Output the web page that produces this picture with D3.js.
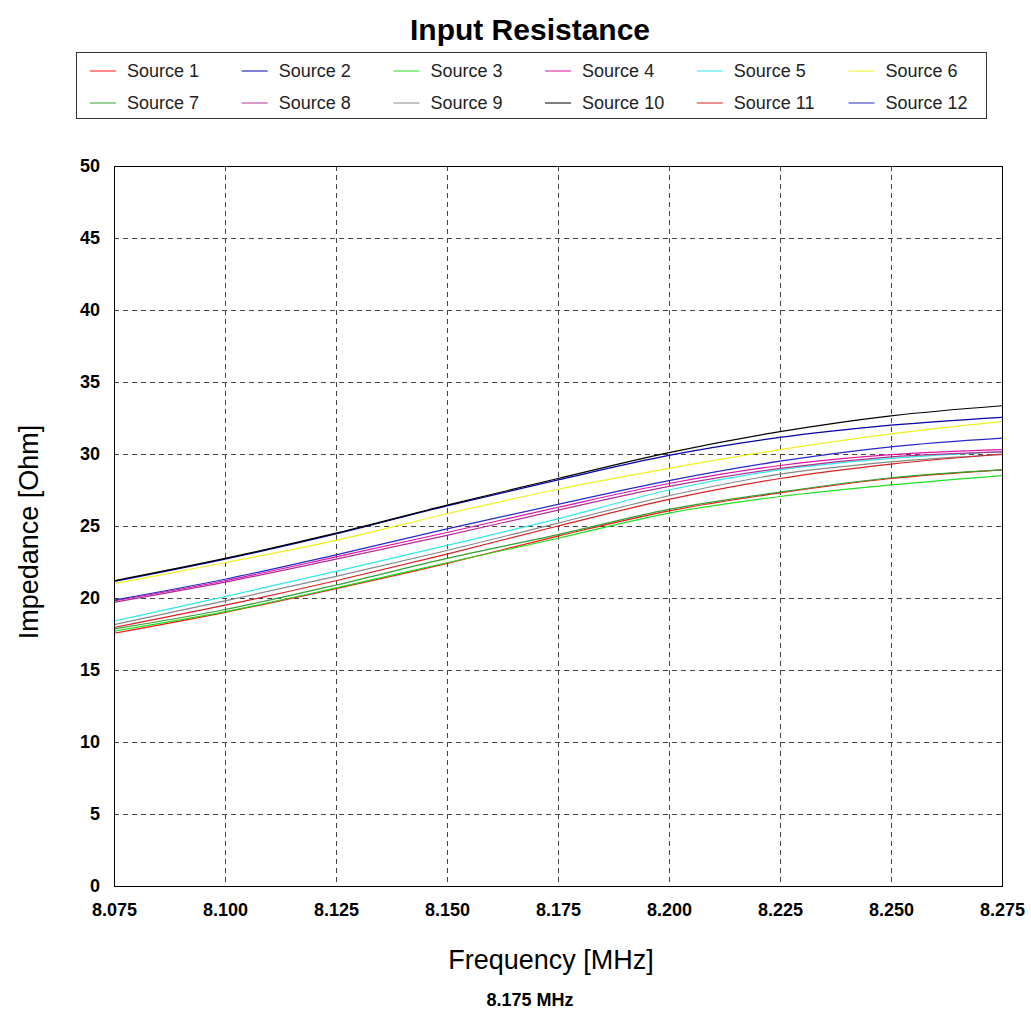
<!DOCTYPE html>
<html>
<head>
<meta charset="utf-8">
<script src="https://cdn.jsdelivr.net/npm/d3@7"></script>
<style>
  body { margin: 0; background: #fff; }
  text { font-family: "Liberation Sans", Arial, sans-serif; }
</style>
</head>
<body>
<div id="chart"></div>
<script>
const freqs = [8.075, 8.100, 8.125, 8.150, 8.175, 8.200, 8.225, 8.250, 8.275];

const sourceNames = ["Source 1", "Source 2", "Source 3", "Source 4", "Source 5", "Source 6",
                     "Source 7", "Source 8", "Source 9", "Source 10", "Source 11", "Source 12"];
const sourceColors = ["#ff1010", "#0000a8", "#20e020", "#e010a8", "#30e8e8", "#f0f020",
                      "#30a030", "#b03090", "#888888", "#000000", "#d82020", "#2828c8"];

// impedance per source [Ohm]
const src1  = [17.55, 19.0, 20.65, 22.4, 24.3, 26.05, 27.3, 28.3, 28.9];
const src2  = [21.15, 22.7, 24.45, 26.4, 28.2, 29.9, 31.15, 32.0, 32.55];
const src3  = [17.7, 19.05, 20.7, 22.45, 24.15, 25.9, 27.05, 27.85, 28.5];
const src4  = [19.8, 21.2, 22.85, 24.55, 26.3, 27.95, 29.2, 29.95, 30.3];
const src5  = [18.4, 20.1, 21.85, 23.65, 25.5, 27.5, 28.9, 29.7, 30.15];
const src6  = [21.0, 22.45, 24.0, 25.85, 27.55, 29.0, 30.3, 31.4, 32.25];
const src7  = [17.85, 19.2, 20.9, 22.75, 24.4, 26.15, 27.35, 28.35, 28.9];
const src8  = [19.7, 21.1, 22.7, 24.35, 26.1, 27.75, 29.0, 29.8, 30.15];
const src9  = [18.15, 19.8, 21.5, 23.3, 25.2, 27.1, 28.6, 29.45, 29.95];
const src10 = [21.2, 22.75, 24.5, 26.45, 28.3, 30.1, 31.55, 32.65, 33.35];
const src11 = [17.95, 19.5, 21.2, 23.05, 25.0, 26.85, 28.3, 29.3, 30.0];
const src12 = [19.85, 21.3, 23.0, 24.8, 26.5, 28.15, 29.5, 30.5, 31.1];

const allSeries = [src1, src2, src3, src4, src5, src6, src7, src8, src9, src10, src11, src12];

const xTicks = [8.075, 8.100, 8.125, 8.150, 8.175, 8.200, 8.225, 8.250, 8.275];
const yTicks = [0, 5, 10, 15, 20, 25, 30, 35, 40, 45, 50];

const W = 1031, H = 1012;
const plot = {left: 114, right: 1002, top: 166, bottom: 886};

const svg = d3.select("#chart").append("svg")
    .attr("width", W)
    .attr("height", H);

const x = d3.scaleLinear().domain([8.075, 8.275]).range([plot.left, plot.right]);
const y = d3.scaleLinear().domain([0, 50]).range([plot.bottom, plot.top]);

// title
svg.append("text")
    .attr("x", 530).attr("y", 40)
    .attr("text-anchor", "middle")
    .style("font-size", "30px")
    .style("font-weight", "bold")
    .text("Input Resistance");

// legend
const legend = svg.append("g");
legend.append("rect")
    .attr("x", 76.5).attr("y", 52.5)
    .attr("width", 910).attr("height", 66)
    .attr("fill", "none").attr("stroke", "#333");

sourceNames.forEach(function(name, i) {
  const col = i % 6, row = Math.floor(i / 6);
  const lx = 90 + col * 151.7, ly = 71 + row * 32;
  legend.append("line")
      .attr("x1", lx).attr("x2", lx + 26)
      .attr("y1", ly).attr("y2", ly)
      .attr("stroke", sourceColors[i]).attr("stroke-width", 1);
  legend.append("text")
      .attr("x", lx + 37).attr("y", ly + 6)
      .style("font-size", "18px")
      .attr("fill", "#222")
      .text(name);
});

// grid
const grid = svg.append("g").attr("stroke", "#444").attr("stroke-dasharray", "5,4");
grid.selectAll("line.gx")
    .data(xTicks.slice(1, -1))
    .enter().append("line")
    .attr("x1", d => Math.round(x(d)) + 0.5).attr("x2", d => Math.round(x(d)) + 0.5)
    .attr("y1", plot.top).attr("y2", plot.bottom);
grid.selectAll("line.gy")
    .data(yTicks.slice(1, -1))
    .enter().append("line")
    .attr("y1", d => Math.round(y(d)) + 0.5).attr("y2", d => Math.round(y(d)) + 0.5)
    .attr("x1", plot.left).attr("x2", plot.right);

// axes
const xAxis = svg.append("g")
    .attr("transform", "translate(0," + plot.bottom + ")")
    .call(d3.axisBottom(x).tickValues(xTicks).tickFormat(d3.format(".3f")).tickSize(0).tickPadding(17));
const yAxis = svg.append("g")
    .attr("transform", "translate(" + plot.left + ",0)")
    .call(d3.axisLeft(y).tickValues(yTicks).tickSize(0).tickPadding(14));
[xAxis, yAxis].forEach(function(a) {
  a.select(".domain").remove();
  a.selectAll("text")
      .style("font-family", "'Liberation Sans', Arial, sans-serif")
      .style("font-size", "18px")
      .style("font-weight", "bold")
      .attr("fill", "#000");
});
yAxis.selectAll("text").attr("dy", "0.3em");

// series lines
const line = d3.line()
    .x((d, i) => x(freqs[i]))
    .y(d => y(d))
    .curve(d3.curveMonotoneX);

svg.append("g")
  .selectAll("path")
  .data(allSeries)
  .enter().append("path")
    .attr("d", line)
    .attr("fill", "none")
    .attr("stroke", (d, i) => sourceColors[i])
    .attr("stroke-width", 1.2);

// plot frame
svg.append("rect")
    .attr("x", plot.left + 0.5).attr("y", plot.top + 0.5)
    .attr("width", plot.right - plot.left).attr("height", plot.bottom - plot.top)
    .attr("fill", "none").attr("stroke", "#000");

// axis titles
svg.append("text")
    .attr("x", 551).attr("y", 969)
    .attr("text-anchor", "middle")
    .style("font-size", "27px")
    .text("Frequency [MHz]");

svg.append("text")
    .attr("transform", "translate(38,532) rotate(-90)")
    .attr("text-anchor", "middle")
    .style("font-size", "27px")
    .text("Impedance [Ohm]");

svg.append("text")
    .attr("x", 530).attr("y", 1006)
    .attr("text-anchor", "middle")
    .style("font-size", "18px")
    .style("font-weight", "bold")
    .text("8.175 MHz");
</script>
</body>
</html>
